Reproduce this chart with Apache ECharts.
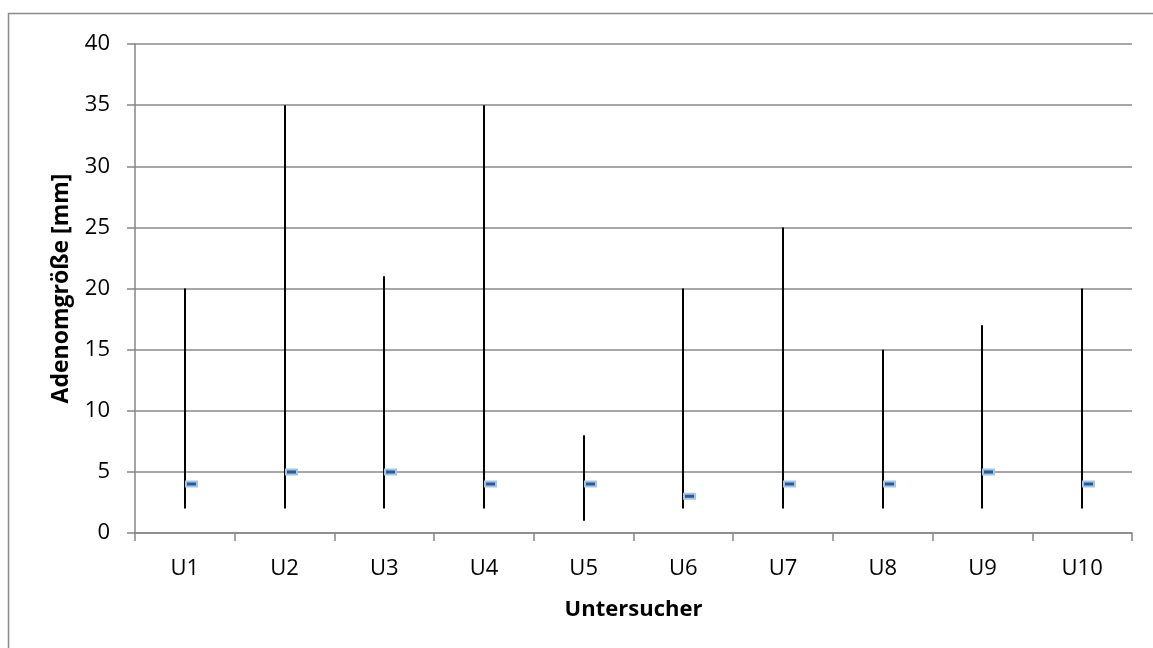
<!DOCTYPE html>
<html>
<head>
<meta charset="utf-8">
<script src="https://cdn.jsdelivr.net/npm/echarts@6/dist/echarts.min.js"></script>
<style>
  html, body { margin: 0; padding: 0; background: #fff; overflow: hidden; }
  #chart { width: 1153px; height: 648px; }
</style>
</head>
<body>
<div id="chart"></div>
<script>
// Adenoma size per examiner: minimum, maximum and median (mm)
const examiners = ['U1', 'U2', 'U3', 'U4', 'U5', 'U6', 'U7', 'U8', 'U9', 'U10'];
const minSize = [2, 2, 2, 2, 1, 2, 2, 2, 2, 2];
const maxSize = [20, 35, 21, 35, 8, 20, 25, 15, 17, 20];
const medianSize = [4, 5, 5, 4, 4, 3, 4, 4, 5, 4];

const rows = examiners.map((u, i) => [i, minSize[i], maxSize[i], medianSize[i]]);

const FONT = '"Open Sans", "Liberation Sans", sans-serif';
const chart = echarts.init(document.getElementById('chart'), null, { renderer: 'canvas' });

chart.setOption({
  animation: false,
  backgroundColor: '#ffffff',
  // chart frame: only the top and left edges fall inside the canvas
  graphic: [{
    type: 'polyline',
    shape: { points: [[8.5, 700], [8.5, 13.5], [1160, 13.5]] },
    style: { fill: 'none', stroke: '#8a8a8a', lineWidth: 1.5 },
    z: -1
  }],
  grid: { left: 135, right: 21, top: 44, bottom: 115, containLabel: false },
  xAxis: {
    type: 'category',
    data: examiners,
    boundaryGap: true,
    name: 'Untersucher',
    nameLocation: 'middle',
    nameGap: 66,
    nameTextStyle: { fontFamily: FONT, fontSize: 22, fontWeight: 'bold', color: '#000' },
    axisLine: { lineStyle: { color: '#868686', width: 1.5 } },
    axisTick: { show: true, inside: false, length: 8, alignWithLabel: false, lineStyle: { color: '#868686', width: 1.5 } },
    axisLabel: { fontFamily: FONT, fontSize: 22, color: '#000', margin: 25 },
    splitLine: { show: false }
  },
  yAxis: {
    type: 'value',
    min: 0,
    max: 40,
    interval: 5,
    name: 'Adenomgröße [mm]',
    nameLocation: 'middle',
    nameRotate: 90,
    nameGap: 62,
    nameTextStyle: { fontFamily: FONT, fontSize: 23, fontWeight: 'bold', color: '#000' },
    axisLine: { show: true, lineStyle: { color: '#868686', width: 1.5 } },
    axisTick: { show: true, inside: false, length: 8, lineStyle: { color: '#868686', width: 1.5 } },
    axisLabel: { fontFamily: FONT, fontSize: 22, color: '#000', margin: 25 },
    splitLine: { show: true, lineStyle: { color: '#8a8a8a', width: 1.5 } }
  },
  series: [{
    type: 'custom',
    data: rows,
    encode: { x: 0, y: [1, 2, 3] },
    renderItem: function (params, api) {
      const idx = api.value(0);
      const lo = api.coord([idx, api.value(1)]);
      const hi = api.coord([idx, api.value(2)]);
      const med = api.coord([idx, api.value(3)]);
      const x = Math.round(lo[0]);
      return {
        type: 'group',
        children: [
          {
            type: 'line',
            shape: { x1: x, y1: lo[1], x2: x, y2: hi[1] },
            style: { stroke: '#000', lineWidth: 2 }
          },
          {
            type: 'rect',
            shape: { x: x + 1, y: med[1] - 2.5, width: 11, height: 5 },
            style: { fill: '#2b5a92', stroke: '#a3c6e6', lineWidth: 2 },
            z2: 2
          }
        ]
      };
    }
  }]
});
</script>
</body>
</html>
